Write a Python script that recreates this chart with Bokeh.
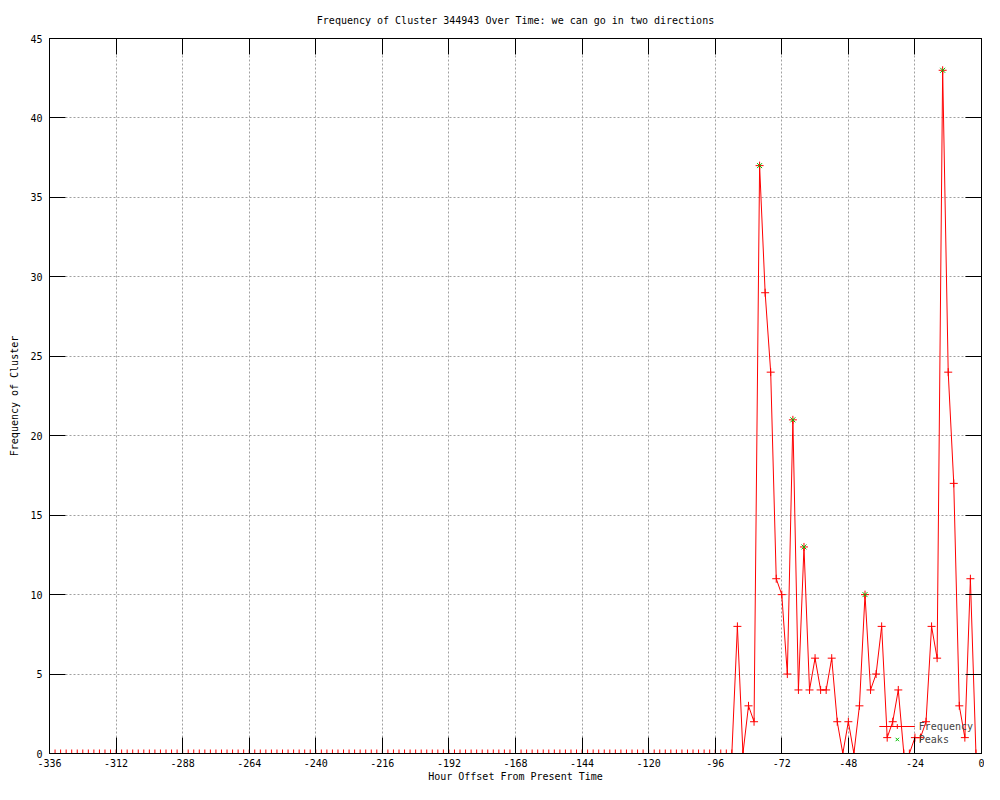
from bokeh.plotting import figure
from bokeh.models import (Range1d, LinearAxis, FixedTicker, Legend, LegendItem,
                          ColumnDataSource, Title, CustomJSTickFormatter)
from bokeh.embed import file_html
from bokeh.resources import INLINE

# ---- data ----
hours = list(range(-336, 0, 2))
frequency = [
    # -336 .. -90 (all zero)
    0, 0, 0, 0, 0, 0, 0, 0, 0, 0, 0, 0,
    0, 0, 0, 0, 0, 0, 0, 0, 0, 0, 0, 0,
    0, 0, 0, 0, 0, 0, 0, 0, 0, 0, 0, 0,
    0, 0, 0, 0, 0, 0, 0, 0, 0, 0, 0, 0,
    0, 0, 0, 0, 0, 0, 0, 0, 0, 0, 0, 0,
    0, 0, 0, 0, 0, 0, 0, 0, 0, 0, 0, 0,
    0, 0, 0, 0, 0, 0, 0, 0, 0, 0, 0, 0,
    0, 0, 0, 0, 0, 0, 0, 0, 0, 0, 0, 0,
    0, 0, 0, 0, 0, 0, 0, 0, 0, 0, 0, 0,
    0, 0, 0, 0, 0, 0, 0, 0, 0, 0, 0, 0,
    0, 0, 0, 0,
    # -88 .. -2
    8, 0, 3, 2, 37, 29, 24, 11, 10, 5, 21, 4,
    13, 4, 6, 4, 4, 6, 2, 0, 2, 0, 3, 10,
    4, 5, 8, 1, 2, 4, 0, 0, 1, 1, 2, 8,
    6, 43, 24, 17, 3, 1, 11, 0,
]
peak_hours = [-80, -68, -64, -42, -14]
peak_values = [37, 21, 13, 10, 43]

x_ticks = [-336, -312, -288, -264, -240, -216, -192, -168, -144, -120, -96, -72, -48, -24, 0]
x_tick_labels = ["-336", "-312", "-288", "-264", "-240", "-216", "-192", "-168",
                 "-144", "-120", "-96", "-72", "-48", "-24", "0"]
y_ticks = [0, 5, 10, 15, 20, 25, 30, 35, 40, 45]

title_text = "Frequency of Cluster 344943 Over Time: we can go in two directions"
x_label = "Hour Offset From Present Time"
y_label = "Frequency of Cluster"

FONT = "DejaVu Sans Mono"
FS = "10px"

p = figure(width=984, height=784,
           x_range=Range1d(-336, 0), y_range=Range1d(0, 45),
           output_backend="svg", toolbar_location=None,
           min_border_left=49, min_border_right=3,
           min_border_top=38, min_border_bottom=28)
p.background_fill_color = "white"
p.border_fill_color = "white"
p.outline_line_color = "black"
p.outline_line_width = 1

# main axes
for ax in (p.xaxis[0], p.yaxis[0]):
    ax.major_tick_in = 16
    ax.major_tick_out = 0
    ax.minor_tick_line_color = None
    ax.axis_line_color = "black"
    ax.major_tick_line_color = "black"
    ax.major_label_text_font = FONT
    ax.major_label_text_font_size = FS
    ax.major_label_text_color = "black"
    ax.axis_label_text_font = FONT
    ax.axis_label_text_font_size = FS
    ax.axis_label_text_font_style = "normal"
    ax.axis_label_text_color = "black"

p.xaxis[0].ticker = FixedTicker(ticks=x_ticks)
p.xaxis[0].major_label_overrides = {t: l for t, l in zip(x_ticks, x_tick_labels)}
p.xaxis[0].axis_label = x_label
p.xaxis[0].major_label_standoff = 5
p.xaxis[0].axis_label_standoff = 1

p.yaxis[0].ticker = FixedTicker(ticks=y_ticks)
p.yaxis[0].major_label_overrides = {t: str(t) for t in y_ticks}
p.yaxis[0].axis_label = y_label
p.yaxis[0].major_label_standoff = 7
p.yaxis[0].axis_label_standoff = 7

# mirrored ticks (top / right), no labels
blank = CustomJSTickFormatter(code="return ''")
top_ax = LinearAxis(ticker=FixedTicker(ticks=x_ticks), major_tick_in=16, major_tick_out=0,
                    minor_tick_line_color=None, formatter=blank,
                    major_label_standoff=0, axis_line_color="black")
right_ax = LinearAxis(ticker=FixedTicker(ticks=y_ticks), major_tick_in=16, major_tick_out=0,
                      minor_tick_line_color=None, formatter=blank,
                      major_label_standoff=0, axis_line_color="black")
p.add_layout(top_ax, "above")
p.add_layout(right_ax, "right")

p.add_layout(Title(text=title_text, align="center", text_font=FONT, text_font_size=FS,
                   text_font_style="normal", text_color="black", standoff=25), "above")

# grid
p.xgrid.ticker = FixedTicker(ticks=x_ticks)
p.ygrid.ticker = FixedTicker(ticks=y_ticks)
for g in (p.xgrid[0], p.ygrid[0]):
    g.grid_line_color = "#a0a0a0"
    g.grid_line_dash = "2 2"
    g.grid_line_width = 1

src = ColumnDataSource(dict(x=hours, y=frequency))
psrc = ColumnDataSource(dict(x=peak_hours, y=peak_values))

ln = p.line("x", "y", source=src, line_color="#ff0000", line_width=1)
cr = p.scatter("x", "y", source=src, marker="cross", size=8, line_color="#ff0000", line_width=1)
pk = p.scatter("x", "y", source=psrc, marker="x", size=7, line_color="#00c000", line_width=1)

legend = Legend(items=[LegendItem(label="Frequency", renderers=[ln, cr]),
                       LegendItem(label="Peaks", renderers=[pk])],
                location="bottom_right")
legend.background_fill_alpha = 0
legend.border_line_color = None
legend.label_text_font = FONT
legend.label_text_font_size = FS
legend.label_height = 12
legend.glyph_height = 12
legend.glyph_width = 36
legend.spacing = 1
legend.padding = 2
legend.margin = 8
legend.label_standoff = 4
p.add_layout(legend, "center")

open("out.html", "w").write(file_html(p, INLINE))
